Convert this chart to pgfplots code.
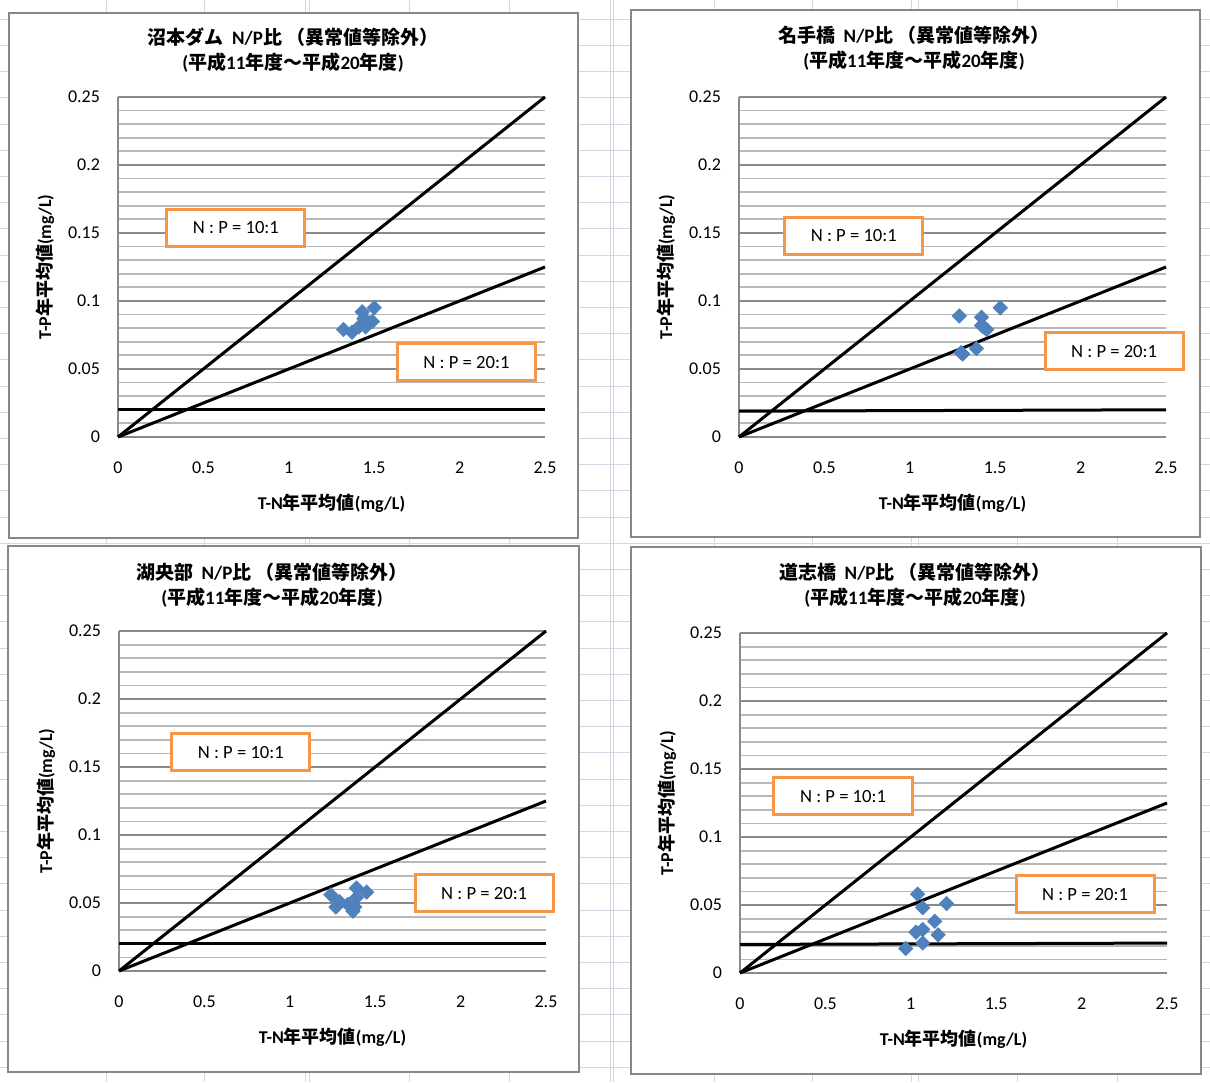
\documentclass[border=0pt]{standalone}
\usepackage{fontspec}
\setmainfont{Carlito}
\newfontfamily\cjk{Noto Sans CJK JP}
\usepackage{pgfplots}
\pgfplotsset{compat=1.18}

\definecolor{ser}{HTML}{4F81BD}
\definecolor{boxc}{HTML}{F79646}
\definecolor{sheet}{HTML}{D0D7E5}
\definecolor{majgrid}{HTML}{8A8A8A}
\definecolor{mingrid}{HTML}{B8B8B8}
\definecolor{frame}{HTML}{878787}

\pgfplotsset{
  np/.style={
    scale only axis, width=213.5pt, height=170pt, anchor=origin,
    xmin=0, xmax=2.5, ymin=0, ymax=0.25,
    axis x line*=bottom, axis y line*=left,
    axis line style={-, draw=majgrid, line width=1pt},
    xtick={0,0.5,1,1.5,2,2.5}, xticklabels={0,0.5,1,1.5,2,2.5},
    ytick={0,0.05,0.1,0.15,0.2,0.25}, yticklabels={0,0.05,0.1,0.15,0.2,0.25},
    minor ytick={0.01,0.02,0.03,0.04,0.06,0.07,0.08,0.09,0.11,0.12,0.13,0.14,
                 0.16,0.17,0.18,0.19,0.21,0.22,0.23,0.24},
    ymajorgrids, yminorgrids,
    major grid style={draw=majgrid, line width=1pt},
    minor grid style={draw=mingrid, line width=0.9pt},
    major tick length=0pt, minor tick length=0pt,
    tick label style={font=\fontsize{9}{10}\selectfont},
    xticklabel style={yshift=-9pt},
    yticklabel style={xshift=-5.5pt},
    xlabel={T-N{\cjk\bfseries 年平均値}(mg/L)},
    ylabel={T-P{\cjk\bfseries 年平均値}(mg/L)},
    every axis x label/.style={at={(axis description cs:0.5,-0.194)}, anchor=center},
    every axis y label/.style={at={(axis description cs:-0.171,0.5)}, rotate=90, anchor=center},
    label style={font=\fontsize{9}{10}\selectfont\bfseries},
    clip=false,
  },
  ratio/.style={black, line width=1.5pt, no marks},
  pts/.style={only marks, mark=square*, mark size=2.5pt,
    mark options={rotate=45, fill=ser, draw=ser}},
}
\tikzset{
  npbox/.style={draw=boxc, line width=1.5pt, fill=white, minimum width=69pt,
    minimum height=18.5pt, inner sep=0pt, font=\fontsize{9.3}{10}\selectfont},
  ttl/.style={align=center, font=\fontsize{9.5}{12.5}\selectfont\bfseries},
}

\begin{document}
\begin{tikzpicture}
\useasboundingbox (0,0) rectangle (605pt,541pt);
\begin{scope}[x=0.5pt,y=0.5pt]
\fill[white] (0,0) rectangle (1210,1082);
% spreadsheet behind the charts
\foreach \c in {106,204,305,309,409,509,610,613,714,812,911,918,1017,1117}
  \draw[sheet, line width=0.5pt] (\c,0) -- (\c,1082);
\foreach \k in {0,...,41}
  \draw[sheet, line width=0.5pt] (0,{1082-19.3-26.2*\k}) -- (1210,{1082-19.3-26.2*\k});
% chart areas
\draw[frame, fill=white, line width=1.2pt] (9,{1082-13}) rectangle (578,{1082-538});
\draw[frame, fill=white, line width=1.2pt] (631,{1082-10}) rectangle (1200,{1082-537});
\draw[frame, fill=white, line width=1.2pt] (8,{1082-546}) rectangle (579,{1082-1072});
\draw[frame, fill=white, line width=1.2pt] (631,{1082-547}) rectangle (1201,{1082-1074});
\end{scope}

% 沼本ダム
\begin{axis}[np, at={(59pt,322.5pt)}]
\addplot[ratio] coordinates {(0,0) (2.5,0.25)};
\addplot[ratio] coordinates {(0,0) (2.5,0.125)};
\addplot[ratio] coordinates {(0,0.02) (2.5,0.02)};
\addplot[pts] coordinates {(1.32,0.079) (1.37,0.077) (1.41,0.081) (1.45,0.081)
  (1.43,0.092) (1.50,0.095) (1.47,0.084) (1.49,0.085) (1.44,0.087)};
\node[npbox] at (axis cs:0.69,0.154) {N : P = 10:1};
\node[npbox] at (axis cs:2.04,0.055) {N : P = 20:1};
\end{axis}

% 名手橋
\begin{axis}[np, at={(369.5pt,322.5pt)}]
\addplot[ratio] coordinates {(0,0) (2.5,0.25)};
\addplot[ratio] coordinates {(0,0) (2.5,0.125)};
\addplot[ratio] coordinates {(0,0.019) (2.5,0.020)};
\addplot[pts] coordinates {(1.29,0.089) (1.42,0.088) (1.53,0.095) (1.42,0.082)
  (1.45,0.079) (1.30,0.062) (1.39,0.065) (1.43,0.081) (1.31,0.061)};
\node[npbox] at (axis cs:0.672,0.148) {N : P = 10:1};
\node[npbox] at (axis cs:2.196,0.063) {N : P = 20:1};
\end{axis}

% 湖央部
\begin{axis}[np, at={(59.5pt,55.5pt)}]
\addplot[ratio] coordinates {(0,0) (2.5,0.25)};
\addplot[ratio] coordinates {(0,0) (2.5,0.125)};
\addplot[ratio] coordinates {(0,0.02) (2.5,0.02)};
\addplot[pts] coordinates {(1.24,0.056) (1.29,0.051) (1.27,0.047) (1.39,0.061)
  (1.45,0.058) (1.39,0.054) (1.37,0.044) (1.34,0.049) (1.38,0.047)};
\node[npbox] at (axis cs:0.713,0.161) {N : P = 10:1};
\node[npbox] at (axis cs:2.138,0.057) {N : P = 20:1};
\end{axis}

% 道志橋
\begin{axis}[np, at={(370pt,54.5pt)}]
\addplot[ratio] coordinates {(0,0) (2.5,0.25)};
\addplot[ratio] coordinates {(0,0) (2.5,0.125)};
\addplot[ratio] coordinates {(0,0.021) (2.5,0.022)};
\addplot[pts] coordinates {(1.04,0.058) (1.07,0.048) (1.21,0.051) (1.14,0.038)
  (1.03,0.030) (1.07,0.032) (1.16,0.028) (1.07,0.022) (0.97,0.018)};
\node[npbox] at (axis cs:0.603,0.130) {N : P = 10:1};
\node[npbox] at (axis cs:2.02,0.058) {N : P = 20:1};
\end{axis}

% titles
\begin{scope}[x=0.5pt,y=0.5pt]
\node[ttl] at (293,{1082-50.5}) {{\cjk\bfseries 沼本ダム}\ \ N/P{\cjk\bfseries 比 （異常値等除外）}\\({\cjk\bfseries 平成}11{\cjk\bfseries 年度～平成}20{\cjk\bfseries 年度})};
\node[ttl] at (914,{1082-48}) {{\cjk\bfseries 名手橋}\ \ N/P{\cjk\bfseries 比 （異常値等除外）}\\({\cjk\bfseries 平成}11{\cjk\bfseries 年度～平成}20{\cjk\bfseries 年度})};
\node[ttl] at (272,{1082-585}) {{\cjk\bfseries 湖央部}\ \ N/P{\cjk\bfseries 比 （異常値等除外）}\\({\cjk\bfseries 平成}11{\cjk\bfseries 年度～平成}20{\cjk\bfseries 年度})};
\node[ttl] at (915,{1082-585}) {{\cjk\bfseries 道志橋}\ \ N/P{\cjk\bfseries 比 （異常値等除外）}\\({\cjk\bfseries 平成}11{\cjk\bfseries 年度～平成}20{\cjk\bfseries 年度})};
\end{scope}
\end{tikzpicture}
\end{document}
